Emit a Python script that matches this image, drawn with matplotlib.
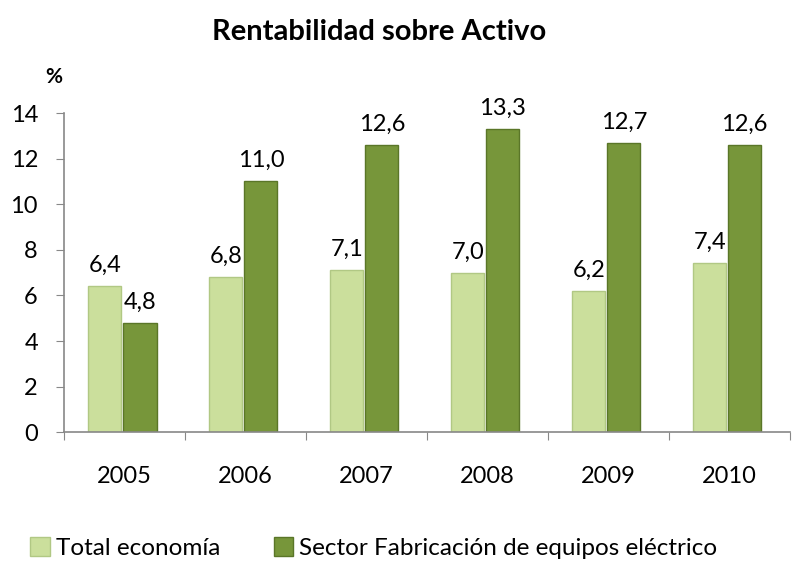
import numpy as np
import matplotlib.pyplot as plt
from matplotlib.patches import Patch

plt.rcParams['font.family'] = ['Lato', 'DejaVu Sans']

years = ['2005', '2006', '2007', '2008', '2009', '2010']
total_economia = [6.4, 6.8, 7.1, 7.0, 6.2, 7.4]
sector_electrico = [4.8, 11.0, 12.6, 13.3, 12.7, 12.6]
series_names = ['Total economía', 'Sector Fabricación de equipos eléctrico']

light = '#cbdf9c'
light_edge = '#b1c884'
dark = '#77963a'
dark_edge = '#5a7628'

fig = plt.figure(figsize=(7.94, 5.65), dpi=100)
ax = fig.add_axes([0.081, 0.235, 0.914, 0.565])

x = np.arange(len(years)) - 0.02
w = 0.275
b1 = ax.bar(x - 0.145, total_economia, w, color=light, edgecolor=light_edge, linewidth=1)
b2 = ax.bar(x + 0.145, sector_electrico, w, color=dark, edgecolor=dark_edge, linewidth=1)

# etiquetas de valor con coma decimal
for bars, vals in [(b1, total_economia), (b2, sector_electrico)]:
    for r, v in zip(bars, vals):
        ax.text(r.get_x() + r.get_width() / 2, v + 0.45, f'{v:.1f}'.replace('.', ','),
                ha='center', va='bottom', fontsize=17)

ax.set_xlim(-0.5, len(years) - 0.5)
ax.set_ylim(0, 14)
ax.set_yticks(range(0, 15, 2))
ax.set_xticks(np.arange(-0.5, len(years), 1))
ax.set_xticklabels([])
ax.set_xticks(np.arange(len(years)), minor=True)
ax.set_xticklabels(years, minor=True)
ax.tick_params(axis='x', which='minor', length=0, pad=24, labelsize=17)
ax.tick_params(axis='x', which='major', length=6, color='#888888', direction='out')
ax.tick_params(axis='y', length=6, color='#888888', labelsize=17, pad=13)
for s in ['top', 'right']:
    ax.spines[s].set_visible(False)
for s in ['left', 'bottom']:
    ax.spines[s].set_color('#888888')
    ax.spines[s].set_linewidth(1.2)

fig.text(0.477, 0.943, 'Rentabilidad sobre Activo', ha='center', va='center',
         fontsize=21, fontweight='bold')
fig.text(0.068, 0.864, '%', ha='center', va='center', fontsize=15, fontweight='bold')

handles = [Patch(facecolor=light, edgecolor=light_edge), Patch(facecolor=dark, edgecolor=dark_edge)]
fig.legend(handles, series_names, loc='center', bbox_to_anchor=(0.471, 0.03), ncol=2,
           frameon=False, fontsize=17.5, handlelength=0.8, handleheight=0.8,
           handletextpad=0.25, columnspacing=2.2, borderpad=0)

fig.savefig('out.png', dpi=100)
